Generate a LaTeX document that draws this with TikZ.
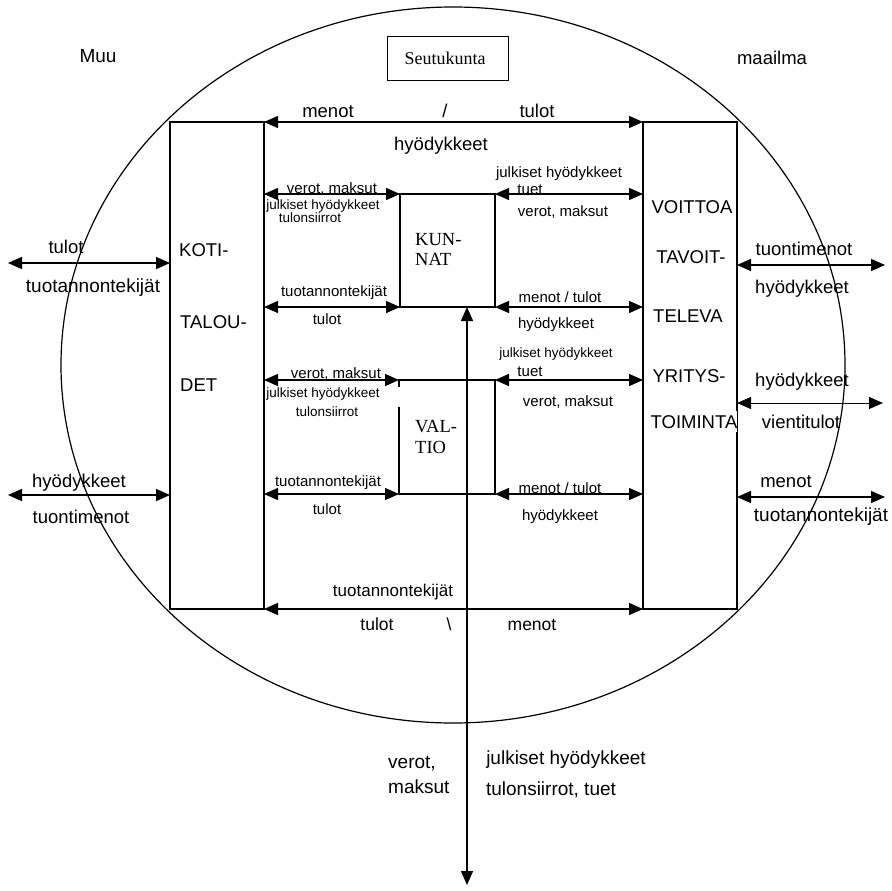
\documentclass[tikz,border=0pt]{standalone}
\usepackage{fontspec}
\setmainfont{Liberation Sans}
\newfontfamily\tnrfont{Liberation Serif}
\usetikzlibrary{arrows.meta,calc}
\newcommand\myfs[1]{\fontsize{#1}{#1}\selectfont}
\begin{document}
\begin{tikzpicture}[x=1pt,y=-1pt,
  box/.style={draw, line width=1.3pt, inner sep=0pt, outer sep=0pt},
  dbl/.style={{Triangle[length=14pt,width=12pt]}-{Triangle[length=14pt,width=12pt]}, line width=1.4pt},
  thindbl/.style={{Triangle[length=14pt,width=12pt]}-{Triangle[length=14pt,width=12pt]}, line width=0.8pt},
  lb/.style={anchor=base, inner sep=0pt, font=\myfs{18.5}},
  lm/.style={anchor=base, inner sep=0pt, font=\myfs{15}},
  ls/.style={anchor=base, inner sep=0pt, font=\myfs{13.5}},
  lx/.style={anchor=base, inner sep=0pt, font=\myfs{19}},
  ser/.style={anchor=base west, inner sep=0pt, font=\tnrfont\myfs{18.5}}]
\useasboundingbox (0,0) rectangle (891,891);
\fill[white] (0,0) rectangle (891,891);

% ellipse (seutukunta boundary)
\draw[line width=1.2pt] (453,365) ellipse [x radius=392pt, y radius=358pt];

% outer world labels
\node[lx] (muu) at (98,63) {Muu};
\node[lb] (maailma) at (772,65) {maailma};
\node[draw, line width=1pt, minimum width=121pt, minimum height=43pt, inner sep=0pt] (seutu) at (447.5,58.5) {};
\node[anchor=base, inner sep=0pt, font=\tnrfont\myfs{18}] (seututxt) at (445,65) {Seutukunta};

% main boxes
\node[box, minimum width=94pt, minimum height=487pt] (koti) at (217,365.5) {};
\node[box, minimum width=94pt, minimum height=487pt] (yritys) at (690,365.5) {};
\node[box, minimum width=95pt, minimum height=113pt] (kunnat) at (447.5,250.5) {};
\node[box, minimum width=96pt, minimum height=114pt] (valtio) at (447,437) {};
\fill[white] ($(valtio.north west)+(-2,7)$) rectangle ($(valtio.north west)+(2,27)$);

% box texts
\node[anchor=base west, inner sep=0pt, font=\myfs{18.5}] (k1) at (179,256) {KOTI-};
\node[anchor=base west, inner sep=0pt, font=\myfs{18.5}] (k2) at (180,328) {TALOU-};
\node[anchor=base west, inner sep=0pt, font=\myfs{18.5}] (k3) at (180,391) {DET};
\node[lb] (y1) at (692,213) {VOITTOA};
\node[lb] (y2) at (691,263) {TAVOIT-};
\node[lb] (y3) at (688,322) {TELEVA};
\node[lb] (y4) at (689,382) {YRITYS-};
\node[lb, fill=white, inner ysep=4pt] (y5) at (694,428) {TOIMINTA};
\node[ser] (ku1) at (415,245) {KUN-};
\node[ser] (ku2) at (415,265) {NAT};
\node[ser] (va1) at (415,432) {VAL-};
\node[ser] (va2) at (415,453) {TIO};

% top and bottom flows
\draw[dbl] (koti.north east) -- (yritys.north west);
\draw[dbl] (koti.south east) -- (yritys.south west);
\node[lb] (t1) at (328,117) {menot};
\node[lb] (t2) at (445,117) {/};
\node[lb] (t3) at (537,117) {tulot};
\node[lb] (t4) at (441,150) {hyödykkeet};
\node[anchor=base, inner sep=0pt, font=\myfs{17}] (b1) at (393,596) {tuotannontekijät};
\node[anchor=base, inner sep=0pt, font=\myfs{17.5}] (b2) at (377,630) {tulot};
\node[anchor=base, inner sep=0pt, font=\myfs{17.5}] (b3) at (449,630) {\textbackslash};
\node[anchor=base, inner sep=0pt, font=\myfs{17.5}] (b4) at (532,630) {menot};

% kunnat flows
\draw[dbl] (koti.east |- kunnat.north west) -- (kunnat.north west);
\draw[dbl] (kunnat.north east) -- (yritys.west |- kunnat.north east);
\draw[dbl] (koti.east |- kunnat.south west) -- (kunnat.south west);
\draw[dbl] (kunnat.south east) -- (yritys.west |- kunnat.south east);
\node[lm] (kl1) at (332,193) {verot, maksut};
\node[ls] (kl2) at (323,209) {julkiset hyödykkeet};
\node[ls] (kl3) at (310,222) {tulonsiirrot};
\node[lm] (kl4) at (334,296) {tuotannontekijät};
\node[lm] (kl5) at (327,324) {tulot};
\node[lm] (kr1) at (559,177) {julkiset hyödykkeet};
\node[lm] (kr2) at (530,194) {tuet};
\node[lm] (kr3) at (563,216) {verot, maksut};
\node[lm] (kr4) at (560,302) {menot / tulot};
\node[lm] (kr5) at (556,328) {hyödykkeet};

% valtio flows
\draw[dbl] (koti.east |- valtio.north west) -- (valtio.north west);
\draw[dbl] (valtio.north east) -- (yritys.west |- valtio.north east);
\draw[dbl] (koti.east |- valtio.south west) -- (valtio.south west);
\draw[dbl] (valtio.south east) -- (yritys.west |- valtio.south east);
\node[lm] (vl1) at (336,378) {verot, maksut};
\node[ls] (vl2) at (323,397) {julkiset hyödykkeet};
\node[ls] (vl3) at (327,416) {tulonsiirrot};
\node[lm] (vl4) at (328,486) {tuotannontekijät};
\node[lm] (vl5) at (327,514) {tulot};
\node[ls] (vr1) at (556,357) {julkiset hyödykkeet};
\node[lm] (vr2) at (530,376) {tuet};
\node[lm] (vr3) at (568,406) {verot, maksut};
\node[lm] (vr4) at (560,493) {menot / tulot};
\node[lm] (vr5) at (560,520) {hyödykkeet};

% central public-sector flow
\coordinate (vb) at (467,885);
\draw[dbl] (vb) -- (vb |- kunnat.south);
\node[anchor=base west, inner sep=0pt, font=\myfs{19}] (c1) at (388,768) {verot,};
\node[anchor=base west, inner sep=0pt, font=\myfs{19}] (c2) at (388,793) {maksut};
\node[lx] (c3) at (566,764) {julkiset hyödykkeet};
\node[lx] (c4) at (551,795) {tulonsiirrot, tuet};

% left outer flows
\coordinate (lo1) at (8,263);
\coordinate (lo2) at (8,495);
\draw[dbl] (lo1) -- (koti.west |- lo1);
\draw[dbl] (lo2) -- (koti.west |- lo2);
\node[lb] (lo1a) at (66,253) {tulot};
\node[lx] (lo1b) at (93,292) {tuotannontekijät};
\node[lb] (lo2a) at (79,487) {hyödykkeet};
\node[lb] (lo2b) at (81,523) {tuontimenot};

% right outer flows
\coordinate (ro1) at (885,265);
\coordinate (ro2) at (883,403);
\coordinate (ro3) at (885,497);
\draw[dbl] (yritys.east |- ro1) -- (ro1);
\draw[thindbl] (yritys.east |- ro2) -- (ro2);
\draw[dbl] (yritys.east |- ro3) -- (ro3);
\node[lb] (ro1a) at (804,255) {tuontimenot};
\node[lb] (ro1b) at (802,293) {hyödykkeet};
\node[lb] (ro2a) at (802,386) {hyödykkeet};
\node[lb] (ro2b) at (801,428) {vientitulot};
\node[lb] (ro3a) at (786,487) {menot};
\node[lx] (ro3b) at (821,521) {tuotannontekijät};
\end{tikzpicture}
\end{document}
